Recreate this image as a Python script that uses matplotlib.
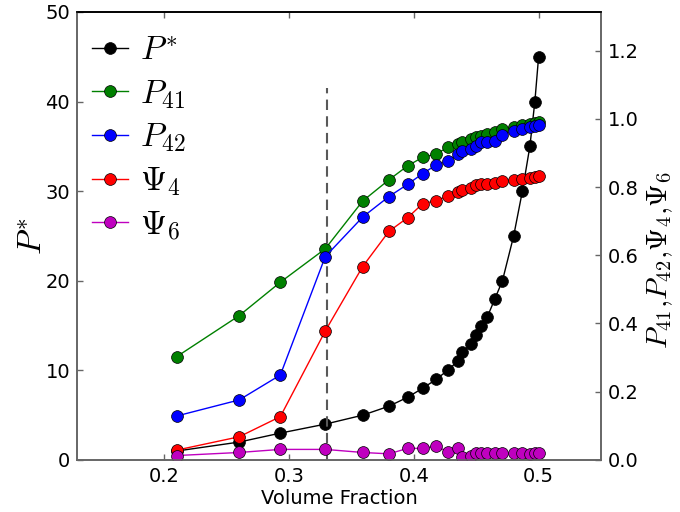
import matplotlib
matplotlib.use("Agg")
from matplotlib import pyplot as plt

# data
volume_fraction = [0.21, 0.26, 0.293, 0.329, 0.359, 0.38, 0.395, 0.407, 0.418, 0.427, 0.435, 0.439,
                   0.446, 0.45, 0.454, 0.459, 0.465, 0.471, 0.48, 0.487, 0.493, 0.497, 0.5]
p_star = [1, 2, 3, 4, 5, 6, 7, 8, 9, 10, 11, 12, 13, 14, 15, 16, 18, 20, 25, 30, 35, 40, 45]
p41 = [0.303, 0.423, 0.521, 0.619, 0.759, 0.821, 0.862, 0.887, 0.897, 0.916, 0.927, 0.932,
       0.940, 0.946, 0.950, 0.956, 0.962, 0.969, 0.977, 0.982, 0.986, 0.989, 0.992]
p42 = [0.129, 0.176, 0.249, 0.596, 0.712, 0.772, 0.808, 0.839, 0.865, 0.875, 0.898, 0.906,
       0.911, 0.919, 0.933, 0.933, 0.935, 0.953, 0.963, 0.970, 0.976, 0.979, 0.982]
psi4 = [0.029, 0.068, 0.127, 0.378, 0.567, 0.670, 0.710, 0.751, 0.760, 0.773, 0.784, 0.791,
        0.798, 0.805, 0.808, 0.810, 0.812, 0.817, 0.822, 0.824, 0.826, 0.828, 0.831]
psi6 = [0.013, 0.022, 0.031, 0.031, 0.022, 0.018, 0.034, 0.034, 0.041, 0.024, 0.034, 0.010,
        0.012, 0.021, 0.020, 0.019, 0.019, 0.021, 0.019, 0.021, 0.018, 0.019, 0.021]
transition_vf = 0.33
transition_top = 41.5

plt.rcParams["mathtext.fontset"] = "cm"
plt.rcParams["font.family"] = "DejaVu Sans"

fig = plt.figure(figsize=(6.8, 5.12), dpi=100)
ax = fig.add_axes([0.1132, 0.1016, 0.7706, 0.875])
ax2 = ax.twinx()

mk = dict(marker="o", ms=8.5, mec="k", mew=0.5, lw=1)
lines = []
lines += ax.plot(volume_fraction, p_star, color="k", label=r"$P^{*}$", **mk)
lines += ax2.plot(volume_fraction, p41, color="g", label=r"$P_{41}$", **mk)
lines += ax2.plot(volume_fraction, p42, color="b", label=r"$P_{42}$", **mk)
lines += ax2.plot(volume_fraction, psi4, color="r", label=r"$\Psi_{4}$", **mk)
lines += ax2.plot(volume_fraction, psi6, color="m", label=r"$\Psi_{6}$", **mk)
ax.vlines(transition_vf, 0, transition_top, colors="0.35", linestyles=(0, (5, 3)), lw=1.5)

ax.set_xlim(0.13, 0.55)
ax.set_ylim(0, 50)
ax2.set_ylim(0, 1.313)
ax.set_xticks([0.2, 0.3, 0.4, 0.5])
ax.set_yticks(range(0, 51, 10))
ax2.set_yticks([0.0, 0.2, 0.4, 0.6, 0.8, 1.0, 1.2])

ax.set_xlabel("Volume Fraction", fontsize=14, labelpad=2)
ax.set_ylabel(r"$P^{*}$", fontsize=24, labelpad=-3)
ax2.set_ylabel(r"$P_{41}{,}P_{42}{,}\Psi_{4}{,}\Psi_{6}$", fontsize=21, labelpad=2)
ax2.yaxis.set_label_coords(1.085, 0.446)

for a in (ax, ax2):
    a.tick_params(direction="in", length=4, width=1, color="0.4", labelsize=14, pad=5)
    for side in ("left", "right", "bottom"):
        a.spines[side].set_color("0.4")
        a.spines[side].set_linewidth(1.2)
    a.spines["top"].set_color("k")
    a.spines["top"].set_linewidth(1.2)
ax.tick_params(top=True, which="both")

ax2.legend(lines, [l.get_label() for l in lines], loc="upper left", frameon=False,
           bbox_to_anchor=(0, 0.984),
           fontsize=24, numpoints=1, handlelength=1.08, handletextpad=0.35,
           labelspacing=0.3, borderaxespad=0.1, borderpad=0.35)

fig.savefig("out.png", dpi=100)
